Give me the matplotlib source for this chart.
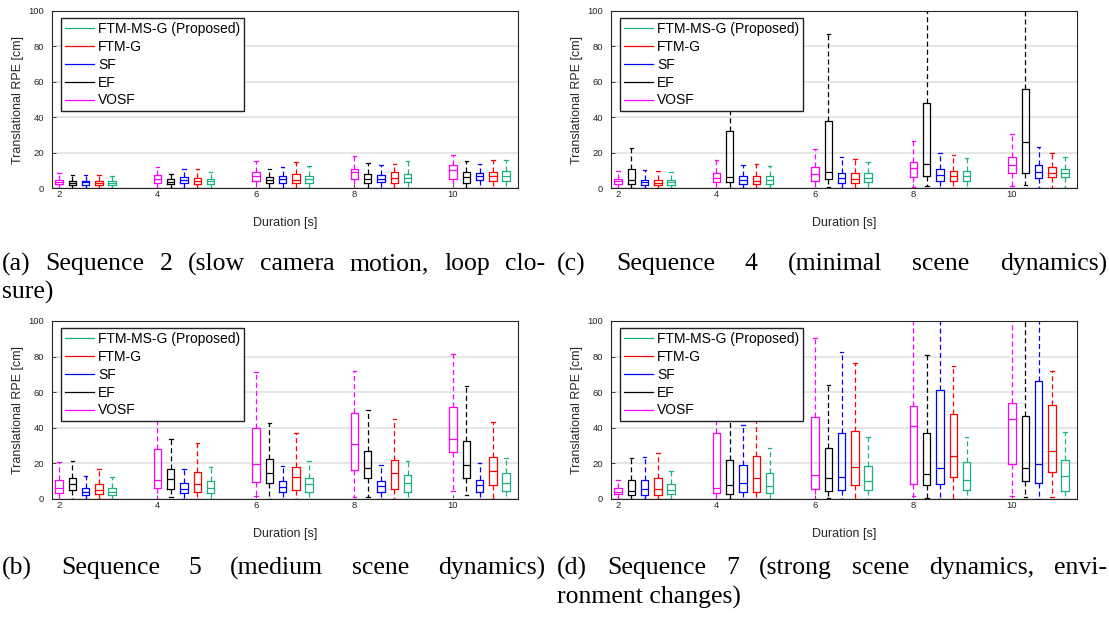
import numpy as np
import matplotlib.pyplot as plt

durations = [2, 4, 6, 8, 10]
methods = ['VOSF', 'EF', 'SF', 'FTM-G', 'FTM-MS-G (Proposed)']
colors = ['#ff00ff', '#000000', '#0000ff', '#ff0000', '#1ab380']

# box stats per duration: (whislo, q1, med, q3, whishi)
seq2 = {
    'VOSF': [(0, 2.1, 3.4, 4.7, 8.4), (0, 2.8, 5.1, 7.3, 11.8), (0, 3.9, 6.9, 9.0, 15.0), (0, 5.1, 8.8, 10.7, 17.8), (0, 5.1, 10.3, 13.1, 18.5)],
    'EF': [(0, 1.7, 3.0, 4.1, 7.3), (0, 2.2, 3.6, 4.9, 8.0), (0, 2.8, 4.5, 6.2, 10.9), (0, 3.0, 5.1, 7.9, 14.2), (0, 3.0, 6.0, 9.2, 15.5)],
    'SF': [(0, 1.7, 3.2, 4.1, 7.3), (0, 2.6, 4.5, 6.0, 10.7), (0, 3.0, 4.9, 6.7, 11.6), (0, 3.2, 5.2, 7.3, 12.9), (0, 4.3, 6.6, 8.2, 13.3)],
    'FTM-G': [(0, 1.5, 2.9, 3.9, 7.3), (0, 2.1, 3.7, 5.6, 10.7), (0, 2.6, 4.7, 7.9, 14.6), (0, 3.0, 5.8, 8.8, 13.7), (0, 4.0, 7.0, 9.0, 15.7)],
    'FTM-MS-G (Proposed)': [(0, 1.5, 3.0, 3.7, 6.7), (0, 2.2, 3.9, 5.2, 9.0), (0, 2.8, 4.9, 6.9, 12.4), (0, 3.2, 5.6, 7.9, 15.0), (0, 4.0, 7.0, 9.5, 15.8)],
}
seq4 = {
    'VOSF': [(0, 2.3, 3.8, 5.3, 9.6), (0, 3.2, 5.5, 8.5, 15.8), (0, 4.1, 8.1, 11.8, 21.8), (0.5, 6.0, 11.3, 14.5, 26.3), (1.0, 8.5, 13.0, 17.5, 30.6)],
    'EF': [(0, 2.4, 4.3, 10.7, 22.6), (0, 3.2, 6.0, 32.3, 60), (0.5, 4.9, 9.0, 37.6, 86.8), (1.3, 7.0, 13.5, 47.9, 120), (1.7, 8.6, 25.9, 56.2, 120)],
    'SF': [(0, 1.9, 3.4, 4.7, 10.0), (0, 2.4, 4.5, 6.6, 13.0), (0, 2.8, 5.6, 8.6, 17.5), (0, 3.9, 7.1, 10.5, 19.7), (0, 5.6, 9.0, 12.8, 23.1)],
    'FTM-G': [(0, 1.7, 3.0, 4.7, 9.4), (0, 2.1, 4.1, 6.6, 13.5), (0, 2.8, 5.1, 8.3, 16.4), (0, 3.8, 6.8, 9.8, 18.4), (0, 6.0, 8.5, 12.0, 20.0)],
    'FTM-MS-G (Proposed)': [(0, 1.9, 3.2, 4.7, 9.0), (0, 2.4, 4.5, 6.6, 12.4), (0, 3.2, 5.6, 8.3, 14.5), (0, 4.1, 7.0, 9.4, 16.7), (0, 6.0, 8.5, 11.0, 17.5)],
}
seq5 = {
    'VOSF': [(0, 3.6, 6.2, 10.7, 21.0), (0, 6.0, 10.7, 27.9, 55), (1.9, 9.4, 19.9, 39.7, 71.2), (1.0, 16.1, 30.7, 48.3, 71.9), (4.3, 26.2, 33.5, 51.5, 81.3)],
    'EF': [(0, 4.9, 8.4, 11.6, 21.5), (1.0, 5.8, 11.0, 17.0, 33.5), (0, 8.8, 14.4, 22.7, 42.5), (1.0, 11.6, 17.6, 27.0, 50.0), (2.1, 12.0, 18.9, 32.8, 63.7)],
    'SF': [(0, 2.2, 4.1, 6.4, 12.9), (0, 3.4, 5.6, 9.0, 17.0), (0, 3.7, 6.7, 9.9, 18.7), (0, 4.1, 7.3, 10.3, 18.9), (0, 4.1, 8.1, 10.7, 20.4)],
    'FTM-G': [(0, 2.8, 5.1, 8.2, 16.7), (0, 4.1, 8.4, 15.0, 31.3), (0, 5.1, 12.2, 18.2, 36.9), (0, 5.8, 14.4, 21.7, 44.8), (0, 7.8, 15.5, 23.5, 43.5)],
    'FTM-MS-G (Proposed)': [(0, 2.2, 4.1, 6.4, 12.2), (0, 3.2, 6.2, 9.9, 17.8), (0, 4.1, 8.6, 11.8, 21.3), (0, 4.1, 8.8, 13.5, 21.3), (0, 4.5, 9.0, 14.5, 23.0)],
}
seq7 = {
    'VOSF': [(0, 2.6, 4.1, 6.0, 10.9), (0, 3.4, 6.4, 37.3, 55), (0, 5.6, 13.7, 45.8, 90.4), (1.7, 8.6, 40.9, 52.5, 120), (1.7, 19.9, 44.7, 53.7, 120)],
    'EF': [(0, 2.3, 4.3, 10.7, 23.0), (0, 3.0, 8.1, 21.8, 60), (0.5, 4.3, 11.8, 28.5, 63.8), (0.5, 7.9, 14.3, 37.3, 81.0), (1.0, 10.3, 17.3, 46.5, 120)],
    'SF': [(0, 2.4, 5.4, 10.9, 23.5), (0, 3.8, 9.0, 18.9, 41.3), (0, 5.3, 12.6, 37.0, 82.6), (0, 8.3, 17.4, 61.4, 120), (0, 8.8, 19.5, 66.4, 120)],
    'FTM-G': [(0, 2.3, 5.4, 12.0, 25.9), (0, 4.1, 12.0, 24.2, 55), (0, 8.1, 18.2, 38.3, 76.4), (0, 12.2, 24.2, 47.8, 74.5), (1.0, 15.0, 27.0, 53.0, 72.0)],
    'FTM-MS-G (Proposed)': [(0, 2.6, 5.1, 8.3, 15.9), (0, 3.6, 7.3, 14.4, 28.9), (0, 4.9, 9.9, 18.6, 35.1), (0, 5.1, 10.5, 20.6, 35.1), (0, 4.3, 13.0, 22.0, 37.5)],
}

caption_a = ["(a) Sequence 2 (slow camera motion, loop clo-", "sure)"]
caption_b = ["(b) Sequence 5 (medium scene dynamics)", ""]
caption_c = ["(c) Sequence 4 (minimal scene dynamics)", ""]
caption_d = ["(d) Sequence 7 (strong scene dynamics, envi-", "ronment changes)"]

sans = 'Liberation Sans'
serif = 'Liberation Serif'
dark = '#262626'

W, H = 1109, 626
fig = plt.figure(figsize=(W / 100, H / 100), dpi=100)


def draw_panel(rect, data):
    l, t, w, h = rect
    ax = fig.add_axes([l / W, 1 - (t + h) / H, w / W, h / H])
    for k, (m, c) in enumerate(zip(methods, colors)):
        stats = [dict(whislo=s[0], q1=s[1], med=s[2], q3=s[3], whishi=s[4], fliers=[]) for s in data[m]]
        pos = [d + 0.27 * k for d in durations]
        art = ax.bxp(stats, positions=pos, widths=0.15, capwidths=0.07, showfliers=False,
                     manage_ticks=False,
                     boxprops=dict(color=c, lw=0.9),
                     medianprops=dict(color=c, lw=0.9),
                     whiskerprops=dict(color=c, lw=0.9, ls=(0, (4, 2.5))),
                     capprops=dict(color=c, lw=0.9))
        art['boxes'][0].set_label(m)
    ax.set_xlim(1.858, 11.32)
    ax.set_ylim(0, 100)
    ax.set_xticks(durations)
    ax.set_yticks([0, 20, 40, 60, 80, 100])
    ax.yaxis.grid(True, color='#e2e2e2', lw=1.2)
    ax.set_axisbelow(True)
    ax.tick_params(direction='in', length=3, width=0.6, colors=dark, labelsize=6.8)
    ax.tick_params(axis='x', pad=1.5)
    ax.tick_params(axis='y', pad=5.5)
    for lab in ax.get_xticklabels() + ax.get_yticklabels():
        lab.set_family(sans)
    for s in ax.spines.values():
        s.set_color(dark)
        s.set_linewidth(0.8)
    ax.set_ylabel('Translational RPE [cm]', family=sans, fontsize=9, color=dark, va='center')
    ax.yaxis.set_label_coords(-34 / w, 0.5)
    ax.set_xlabel('Duration [s]', family=sans, fontsize=9, color=dark, va='center')
    ax.xaxis.set_label_coords(0.5, -35 / h)
    handles, labels = ax.get_legend_handles_labels()
    leg = ax.legend(handles[::-1], labels[::-1], loc='upper left',
                    bbox_to_anchor=(9 / w, 1 - 7 / h), borderaxespad=0,
                    prop=dict(family=sans, size=10), fancybox=False, framealpha=1,
                    edgecolor='#222222', labelspacing=0.28, borderpad=0.28,
                    handlelength=2.1, handletextpad=0.3)
    leg.get_frame().set_linewidth(1.0)
    return ax


draw_panel((52, 11, 466, 177), seq2)
draw_panel((611, 11, 466, 177), seq4)
draw_panel((52, 321, 466, 178), seq5)
draw_panel((611, 321, 466, 178), seq7)

renderer = fig.canvas.get_renderer()


def caption(lines, x0, x1, y1, y2, size=18.5):
    # justified first line, ragged second line
    words = lines[0].split(' ')
    ts = [fig.text(0, 1 - y1 / H, wd, family=serif, fontsize=size, va='center') for wd in words]
    ws = [t.get_window_extent(renderer).width for t in ts]
    gap = ((x1 - x0) - sum(ws)) / (len(words) - 1)
    x = x0
    for t, wd in zip(ts, ws):
        t.set_x(x / W)
        x += wd + gap
    if lines[1]:
        fig.text(x0 / W, 1 - y2 / H, lines[1], family=serif, fontsize=size, va='center')


caption(caption_a, 2, 545, 264, 292)
caption(caption_c, 557, 1107, 264, 292)
caption(caption_b, 2, 545, 568, 597)
caption(caption_d, 557, 1107, 568, 597)

fig.savefig('out.png', dpi=100)
